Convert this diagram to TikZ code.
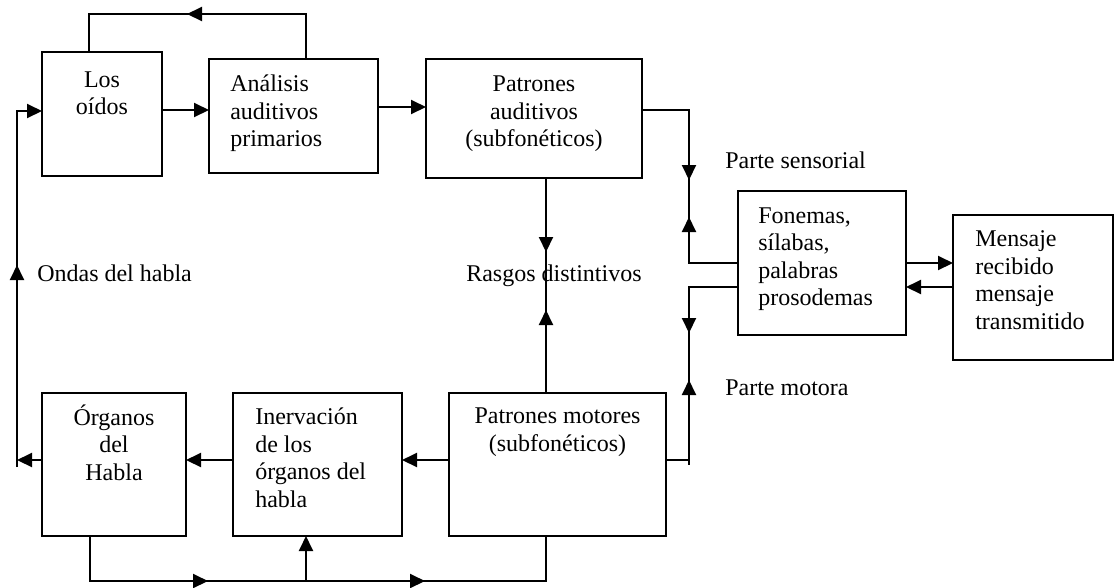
\documentclass[tikz,border=0pt]{standalone}
\usepackage{fontspec}
\setmainfont{Liberation Serif}
\usetikzlibrary{arrows.meta,calc}
\begin{document}
\begin{tikzpicture}[x=0.75pt,y=-0.75pt,
  box/.style={draw, line width=1.2pt, inner sep=0pt, outer sep=0pt},
  txt/.style={inner sep=0pt, font=\fontsize{18}{20.6}\selectfont},
  conn/.style={line width=1.5pt},
  tip/.style={line width=1.5pt, -{Triangle[length=11.25pt,width=10.5pt]}},
]
\useasboundingbox (0,0) rectangle (1114,587);

% boxes
\node[box, minimum width=90pt,     minimum height=93pt]     (oidos)      at (102,114)     {};
\node[box, minimum width=126.75pt, minimum height=85.5pt]   (analisis)   at (293.5,116)   {};
\node[box, minimum width=162pt,    minimum height=89.25pt]  (patAud)     at (534,118.5)   {};
\node[box, minimum width=126pt,    minimum height=108pt]    (fonemas)    at (822,263)     {};
\node[box, minimum width=120pt,    minimum height=108.75pt] (mensaje)    at (1033,287.5)  {};
\node[box, minimum width=108pt,    minimum height=107.25pt] (organos)    at (114,464.5)   {};
\node[box, minimum width=126.75pt, minimum height=107.25pt] (inervacion) at (317.5,464.5)  {};
\node[box, minimum width=162.75pt, minimum height=107.25pt] (patMot)     at (557.5,464.5)  {};

% box texts (anchored at the baseline of their last line)
\node[txt, align=center, anchor=base]      (tOidos)   at (102,114.5)  {Los\\oídos};
\node[txt, align=left,   anchor=base west] (tAna)     at (230,146.5)  {Análisis\\auditivos\\primarios};
\node[txt, align=center, anchor=base]      (tPatAud)  at (534,146.5)  {Patrones\\auditivos\\(subfonéticos)};
\node[txt, align=left,   anchor=base west] (tFon)     at (758,305.5)  {Fonemas,\\sílabas,\\palabras\\prosodemas};
\node[txt, align=left,   anchor=base west] (tMen)     at (975,329)    {Mensaje\\recibido\\mensaje\\transmitido};
\node[txt, align=center, anchor=base]      (tOrg)     at (114,480)    {Órganos\\del\\Habla};
\node[txt, align=left,   anchor=base west] (tIne)     at (255,507)    {Inervación\\de los\\órganos del\\habla};
\node[txt, align=center, anchor=base]      (tPatMot)  at (557.5,451)  {Patrones motores\\(subfonéticos)};

% free labels
\node[txt, anchor=base west] (lSens)   at (725,168) {Parte sensorial};
\node[txt, anchor=base west] (lMot)    at (725,395) {Parte motora};
\node[txt, anchor=base west] (lOndas)  at (37,281)  {Ondas del habla};
\node[txt, anchor=base west] (lRasgos) at (466,281) {Rasgos distintivos};

% feedback from the primary analysis back to the ears
\draw[conn] (analisis.north -| 306,0) -- (306,14) -- (89,14) -- (oidos.north -| 89,0);
\draw[tip] (205,14) -- (187,14);

% auditory chain
\draw[tip] (oidos.east |- 0,110) -- (analisis.west |- 0,110);
\draw[tip] (analisis.east |- 0,107) -- (patAud.west |- 0,107);

% sensory branch
\draw[conn] (patAud.east |- 0,110) -- (689,110) -- (689,263) -- (fonemas.west |- 0,263);
\draw[tip] (689,160) -- (689,180);
\draw[tip] (689,240) -- (689,217);

% motor branch
\draw[conn] (fonemas.west |- 0,287) -- (689,287) -- (689,465);
\draw[conn] (689,460) -- (patMot.east |- 0,460);
\draw[tip] (689,310) -- (689,333);
\draw[tip] (689,400) -- (689,380);

% phonemes <-> message
\draw[tip] (fonemas.east |- 0,263) -- (mensaje.west |- 0,263);
\draw[tip] (mensaje.west |- 0,287) -- (fonemas.east |- 0,287);

% distinctive features
\draw[conn] (patAud.south -| 546,0) -- (patMot.north -| 546,0);
\draw[tip] (546,230) -- (546,252);
\draw[tip] (546,335) -- (546,310);

% motor chain
\draw[tip] (patMot.west |- 0,460) -- (inervacion.east |- 0,460);
\draw[tip] (inervacion.west |- 0,460) -- (organos.east |- 0,460);
\draw[tip] (organos.west |- 0,460) -- (17,460);

% speech waves back to the ears
\draw[tip] (17,467) -- (17,111) -- (oidos.west |- 0,111);
\draw[tip] (17,290) -- (17,265);

% bottom return
\draw[conn] (organos.south -| 90,0) -- (90,581) -- (546,581) -- (patMot.south -| 546,0);
\draw[tip] (190,581) -- (208,581);
\draw[tip] (400,581) -- (425,581);
\draw[tip] (306,581) -- (inervacion.south -| 306,0);
\end{tikzpicture}
\end{document}
